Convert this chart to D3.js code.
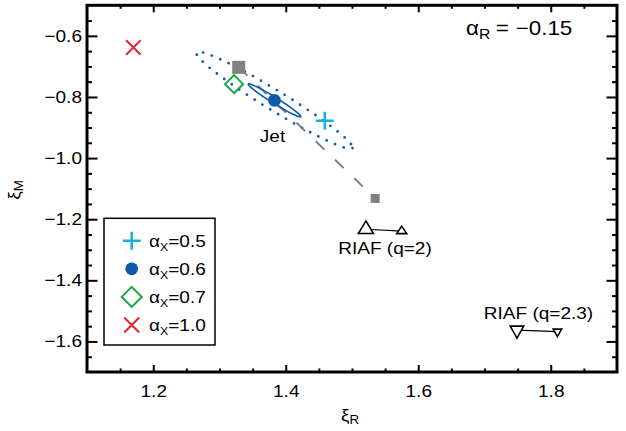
<!DOCTYPE html>
<html><head><meta charset="utf-8">
<script src="https://cdn.jsdelivr.net/npm/d3@7"></script>
<style>
html,body{margin:0;padding:0;background:#fff;}
svg{display:block;font-family:"Liberation Sans",Arial,sans-serif;}
</style></head><body>
<svg id="c" width="626" height="431"></svg>
<script>
// ---------- data ----------
const alphaXLabels = ["0.5", "0.6", "0.7", "1.0"];
const modelXiR = [1.459, 1.383, 1.322, 1.170];
const modelXiM = [-0.878, -0.811, -0.758, -0.638];
const modelColors = ["#19b2dc", "#0a5aae", "#16a544", "#e3262b"];
const modelShapes = ["plus", "circle", "diamond", "cross"];
const squareXiR = [1.329, 1.535];
const squareXiM = [-0.703, -1.132];
const riaf2XiR = [1.521, 1.575];
const riaf2XiM = [-1.233, -1.239];
const riaf23XiR = [1.749, 1.810];
const riaf23XiM = [-1.563, -1.568];
// jet error ellipses: centre and two conjugate semi-axes (in data units)
const jetCenter = [1.383, -0.811];
const innerAxisA = [0.0395, -0.0535];
const innerAxisB = [-0.0024, -0.0083];
const outerAxisA = [0.1177, -0.1563];
const outerAxisB = [-0.0079, -0.0279];
const xTicks = [1.2, 1.4, 1.6, 1.8];
const yTicks = [-0.6, -0.8, -1.0, -1.2, -1.4, -1.6];
const xMinor = [1.15, 1.25, 1.3, 1.35, 1.45, 1.5, 1.55, 1.65, 1.7, 1.75, 1.85];
const yMinor = [-0.55, -0.65, -0.7, -0.75, -0.85, -0.9, -0.95, -1.05, -1.1, -1.15, -1.25, -1.3, -1.35, -1.45, -1.5, -1.55, -1.65];

// ---------- setup ----------
const SX = 1.12; // horizontal stretch of the original lettering
const svg = d3.select("#c");
const L = 87, R = 617, T = 5.3, B = 372;
const x = d3.scaleLinear().domain([1.1, 1.9]).range([L, R]);
const y = d3.scaleLinear().domain([-1.7, -0.5]).range([B, T]);

function styleAxis(g, w) {
  g.select(".domain").remove();
  g.selectAll(".tick line").attr("stroke", "#000").attr("stroke-width", w);
  g.selectAll(".tick text").attr("fill", "#000").attr("font-size", 17)
    .attr("font-family", '"Liberation Sans",Arial,sans-serif')
    .attr("transform", `scale(${SX},1)`);
}
// bottom
svg.append("g").attr("transform", `translate(0,${B})`)
  .call(d3.axisBottom(x).tickValues(xTicks).tickSize(-7).tickPadding(12.5).tickFormat(d3.format(".1f")))
  .call(g => styleAxis(g, 2));
svg.append("g").attr("transform", `translate(0,${B})`)
  .call(d3.axisBottom(x).tickValues(xMinor).tickSize(-3.5).tickFormat(""))
  .call(g => styleAxis(g, 2));
// top
svg.append("g").attr("transform", `translate(0,${T})`)
  .call(d3.axisTop(x).tickValues(xTicks).tickSize(-7).tickFormat(""))
  .call(g => styleAxis(g, 2));
svg.append("g").attr("transform", `translate(0,${T})`)
  .call(d3.axisTop(x).tickValues(xMinor).tickSize(-3.5).tickFormat(""))
  .call(g => styleAxis(g, 2));
// left
svg.append("g").attr("transform", `translate(${L},0)`)
  .call(d3.axisLeft(y).tickValues(yTicks).tickSize(-10.5).tickPadding(4.5).tickFormat(d3.format(".1f")))
  .call(g => styleAxis(g, 2));
svg.append("g").attr("transform", `translate(${L},0)`)
  .call(d3.axisLeft(y).tickValues(yMinor).tickSize(-5).tickFormat(""))
  .call(g => styleAxis(g, 2));
// right
svg.append("g").attr("transform", `translate(${R},0)`)
  .call(d3.axisRight(y).tickValues(yTicks).tickSize(-10.5).tickFormat(""))
  .call(g => styleAxis(g, 2));
svg.append("g").attr("transform", `translate(${R},0)`)
  .call(d3.axisRight(y).tickValues(yMinor).tickSize(-5).tickFormat(""))
  .call(g => styleAxis(g, 2));
// frame
svg.append("rect").attr("x", L).attr("y", T).attr("width", R - L).attr("height", B - T)
  .attr("fill", "none").attr("stroke", "#000").attr("stroke-width", 3);

// ---------- helpers ----------
function label(px, py, anchor, size) {
  return svg.append("text")
    .attr("transform", `translate(${px},${py}) scale(${SX},1)`)
    .attr("text-anchor", anchor).attr("font-size", size).attr("fill", "#000");
}
function marker(g, shape, cx, cy, color, s) {
  if (shape === "plus") {
    g.append("path").attr("d", `M${cx - s / 2},${cy}H${cx + s / 2}M${cx},${cy - s / 2}V${cy + s / 2}`)
      .attr("stroke", color).attr("stroke-width", 2.6).attr("fill", "none");
  } else if (shape === "circle") {
    g.append("circle").attr("cx", cx).attr("cy", cy).attr("r", s / 2).attr("fill", color);
  } else if (shape === "diamond") {
    const h = s / 2;
    g.append("path").attr("d", `M${cx},${cy - h}L${cx + h},${cy}L${cx},${cy + h}L${cx - h},${cy}Z`)
      .attr("stroke", color).attr("stroke-width", 2).attr("fill", "none");
  } else if (shape === "cross") {
    const h = s / 2;
    g.append("path").attr("d", `M${cx - h},${cy - h}L${cx + h},${cy + h}M${cx - h},${cy + h}L${cx + h},${cy - h}`)
      .attr("stroke", color).attr("stroke-width", 2).attr("fill", "none");
  }
}
function tri(g, cx, cy, w, h, up) {
  const d = up
    ? `M${cx},${cy - 2 * h / 3}L${cx + w / 2},${cy + h / 3}L${cx - w / 2},${cy + h / 3}Z`
    : `M${cx},${cy + 2 * h / 3}L${cx + w / 2},${cy - h / 3}L${cx - w / 2},${cy - h / 3}Z`;
  g.append("path").attr("d", d).attr("fill", "#fff").attr("stroke", "#000").attr("stroke-width", 1.6)
    .attr("stroke-linejoin", "miter");
}
function ellipsePts(c, a, b) {
  return d3.range(0, 360, 2).map(t => {
    const r = t * Math.PI / 180;
    return [c[0] + a[0] * Math.cos(r) + b[0] * Math.sin(r), c[1] + a[1] * Math.cos(r) + b[1] * Math.sin(r)];
  });
}
const ell = d3.line().x(d => x(d[0])).y(d => y(d[1])).curve(d3.curveLinearClosed);

const plot = svg.append("g");
// outer dotted ellipse
plot.append("path").attr("d", ell(ellipsePts(jetCenter, outerAxisA, outerAxisB)))
  .attr("fill", "none").attr("stroke", "#0a5aae").attr("stroke-width", 2.8)
  .attr("stroke-linecap", "round").attr("stroke-dasharray", "0 9.2");
// dashed grey line
plot.append("line").attr("x1", x(squareXiR[0])).attr("y1", y(squareXiM[0]))
  .attr("x2", x(squareXiR[1])).attr("y2", y(squareXiM[1]))
  .attr("stroke", "#808080").attr("stroke-width", 2).attr("stroke-dasharray", "12 14.7");
// grey squares
const sqSize = [13, 9];
squareXiR.forEach((v, i) => {
  plot.append("rect").attr("x", x(v) - sqSize[i] / 2).attr("y", y(squareXiM[i]) - sqSize[i] / 2)
    .attr("width", sqSize[i]).attr("height", sqSize[i]).attr("fill", "#808080");
});
// inner solid ellipse
plot.append("path").attr("d", ell(ellipsePts(jetCenter, innerAxisA, innerAxisB)))
  .attr("fill", "none").attr("stroke", "#0a5aae").attr("stroke-width", 1.6);
// model markers
const mSize = [18, 12.7, 18, 14.5];
modelXiR.forEach((v, i) => marker(plot, modelShapes[i], x(v), y(modelXiM[i]), modelColors[i], mSize[i]));

// RIAF markers
plot.append("line").attr("x1", x(riaf2XiR[0])).attr("y1", y(riaf2XiM[0])).attr("x2", x(riaf2XiR[1])).attr("y2", y(riaf2XiM[1]))
  .attr("stroke", "#000").attr("stroke-width", 1.1);
tri(plot, x(riaf2XiR[0]), y(riaf2XiM[0]), 15, 12.5, true);
tri(plot, x(riaf2XiR[1]), y(riaf2XiM[1]), 10, 7.5, true);
plot.append("line").attr("x1", x(riaf23XiR[0])).attr("y1", y(riaf23XiM[0])).attr("x2", x(riaf23XiR[1])).attr("y2", y(riaf23XiM[1]))
  .attr("stroke", "#000").attr("stroke-width", 1.1);
tri(plot, x(riaf23XiR[0]), y(riaf23XiM[0]), 13.5, 12, false);
tri(plot, x(riaf23XiR[1]), y(riaf23XiM[1]), 8.5, 7.5, false);

// annotations
label(272.5, 142, "middle", 17).text("Jet");
label(385, 254, "middle", 17).text("RIAF (q=2)");
label(538.5, 318.5, "middle", 17).text("RIAF (q=2.3)");

// title alpha_R = -0.15
const tt = label(466, 35, "start", 20);
tt.append("tspan").text("α");
tt.append("tspan").attr("font-size", 14).attr("dy", 4).text("R");
tt.append("tspan").attr("dy", -4).attr("dx", 5).text("=");
tt.append("tspan").attr("dx", 6).text("−0.15");

// axis titles
const xt = label(350, 421, "middle", 17);
xt.append("tspan").text("ξ");
xt.append("tspan").attr("font-size", 12).attr("dy", 3).text("R");
const yt = svg.append("text").attr("transform", `translate(20,190) rotate(-90) scale(${SX},1)`)
  .attr("text-anchor", "middle").attr("font-size", 17);
yt.append("tspan").text("ξ");
yt.append("tspan").attr("font-size", 12).attr("dy", 3).text("M");

// legend
const lg = svg.append("g");
lg.append("rect").attr("x", 104).attr("y", 218.3).attr("width", 111).attr("height", 126.7)
  .attr("fill", "#fff").attr("stroke", "#000").attr("stroke-width", 1.5);
const legSize = [18, 12.7, 20, 15];
alphaXLabels.forEach((lab, i) => {
  const cy = 240.7 + i * 28.1;
  marker(lg, modelShapes[i], 131.7, cy, modelColors[i], legSize[i]);
  const t = label(149, cy + 6, "start", 17);
  t.append("tspan").text("α");
  t.append("tspan").attr("font-size", 11).attr("dy", 4).text("X");
  t.append("tspan").attr("dy", -4).text("=" + lab);
});
</script>
</body></html>
